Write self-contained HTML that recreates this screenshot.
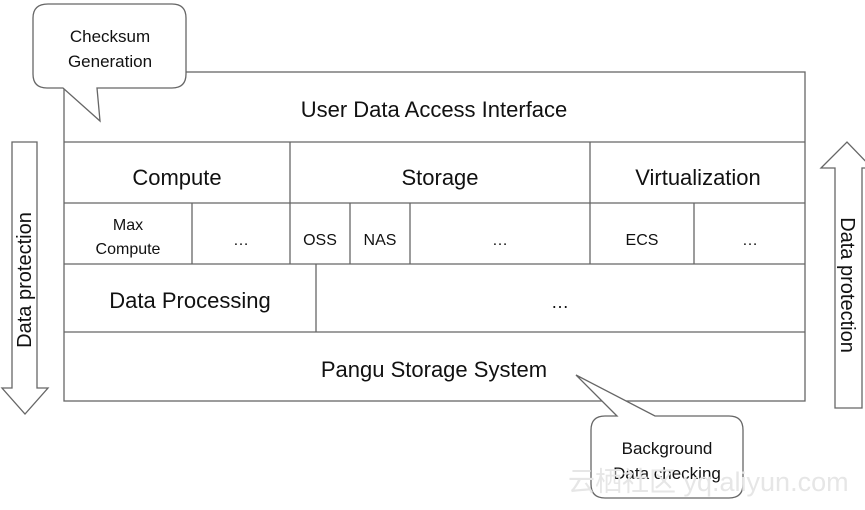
<!DOCTYPE html>
<html><head><style>
body{margin:0;background:#fff;}
svg text{font-family:"Liberation Sans",sans-serif;fill:#111;}
</style></head><body>
<svg width="865" height="505" viewBox="0 0 865 505" xmlns="http://www.w3.org/2000/svg">
<g stroke="#666" stroke-width="1.3" fill="none">
<rect x="64" y="72" width="741" height="329" fill="#fff"/>
<line x1="64" y1="142" x2="805" y2="142"/>
<line x1="64" y1="203" x2="805" y2="203"/>
<line x1="64" y1="264" x2="805" y2="264"/>
<line x1="64" y1="332" x2="805" y2="332"/>
<line x1="290" y1="142" x2="290" y2="264"/>
<line x1="590" y1="142" x2="590" y2="264"/>
<line x1="192" y1="203" x2="192" y2="264"/>
<line x1="350" y1="203" x2="350" y2="264"/>
<line x1="410" y1="203" x2="410" y2="264"/>
<line x1="694" y1="203" x2="694" y2="264"/>
<line x1="316" y1="264" x2="316" y2="332"/>
<path d="M12 142 H37 V388 H48 L25 414 L2 388 H12 Z" fill="#fff"/>
<path d="M835 408 H862 V168 H872 L847 142 L821 168 H835 Z" fill="#fff"/>
<path d="M48 4 H172 Q186 4 186 18 V74 Q186 88 172 88 H97 L100 121 L63 88 H47 Q33 88 33 74 V18 Q33 4 48 4 Z" fill="#fff"/>
<path d="M605 416 H617 L576 375 L655 416 H729 Q743 416 743 430 V484 Q743 498 729 498 H605 Q591 498 591 484 V430 Q591 416 605 416 Z" fill="#fff"/>
</g>
<g text-anchor="middle">
<text x="434" y="117" font-size="22">User Data Access Interface</text>
<text x="177" y="185" font-size="22">Compute</text>
<text x="440" y="185" font-size="22">Storage</text>
<text x="698" y="185" font-size="22">Virtualization</text>
<text x="128" y="230" font-size="16">Max</text>
<text x="128" y="254" font-size="16">Compute</text>
<text x="241" y="245" font-size="16">…</text>
<text x="320" y="245" font-size="16">OSS</text>
<text x="380" y="245" font-size="16">NAS</text>
<text x="500" y="245" font-size="16">…</text>
<text x="642" y="245" font-size="16">ECS</text>
<text x="750" y="245" font-size="16">…</text>
<text x="190" y="308" font-size="22">Data Processing</text>
<text x="560" y="308" font-size="18">…</text>
<text x="434" y="377" font-size="22">Pangu Storage System</text>
<text x="110" y="42" font-size="17">Checksum</text>
<text x="110" y="67" font-size="17">Generation</text>
<text x="667" y="454" font-size="17">Background</text>
<text x="667" y="479" font-size="17">Data checking</text>
<text transform="translate(31,280) rotate(-90)" font-size="20">Data protection</text>
<text transform="translate(841,285) rotate(90)" font-size="20">Data protection</text>
</g>
<text x="568" y="491" font-size="27" style="fill:#e6e6e6">云栖社区 yq.aliyun.com</text>
</svg>
</body></html>
